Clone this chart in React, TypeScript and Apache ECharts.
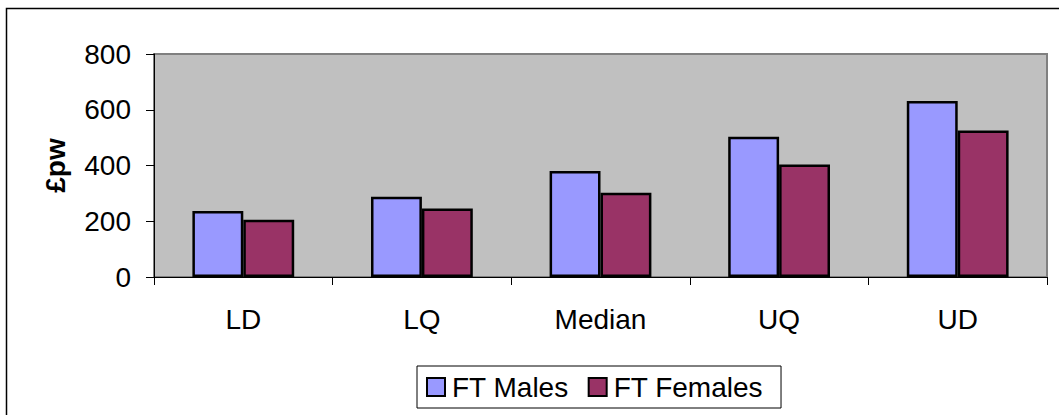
import React, { useEffect, useRef } from "react";
import * as echarts from "echarts";

// Weekly earnings distribution points (£ per week)
const categories = ["LD", "LQ", "Median", "UQ", "UD"];
const ftMales = [237, 288, 380, 503, 631];
const ftFemales = [205, 246, 302, 404, 526];
const yTicks = { min: 0, max: 800, interval: 200 };

const FONT = "Liberation Sans, Arial, Helvetica, sans-serif";
const FS = 28;

export default function App() {
  const ref = useRef<HTMLDivElement>(null);

  useEffect(() => {
    if (!ref.current) return;
    const chart = echarts.init(ref.current, undefined, { renderer: "svg" });
    const barStyle = (color: string) => ({
      color,
      borderColor: "#000",
      borderWidth: 2.5,
    });
    chart.setOption({
      animation: false,
      textStyle: { fontFamily: FONT },
      graphic: [
        {
          type: "rect",
          shape: { x: 6.5, y: 8.5, width: 1100, height: 500 },
          style: { fill: "none", stroke: "#000", lineWidth: 1.5 },
          z: 0,
        },
      ],
      grid: {
        left: 154,
        right: 12,
        top: 54,
        bottom: 138,
        show: true,
        backgroundColor: "#C0C0C0",
        borderColor: "#808080",
        borderWidth: 2,
      },
      legend: {
        left: 417,
        top: 366,
        itemWidth: 18,
        itemHeight: 18,
        itemGap: 19,
        padding: [7, 18, 7, 9],
        borderColor: "#000",
        borderWidth: 1,
        backgroundColor: "#fff",
        textStyle: { fontSize: FS, color: "#000", fontFamily: FONT, padding: [0, 0, 0, 2] },
        data: [
          { name: "FT Males", icon: "rect", itemStyle: { borderColor: "#000", borderWidth: 2 } },
          { name: "FT Females", icon: "rect", itemStyle: { borderColor: "#000", borderWidth: 2 } },
        ],
      },
      xAxis: {
        type: "category",
        data: categories,
        axisLine: { lineStyle: { color: "#000", width: 1 } },
        axisTick: { show: true, length: 8, lineStyle: { color: "#000" } },
        axisLabel: { fontSize: FS, color: "#000", margin: 28, fontFamily: FONT },
        splitLine: { show: false },
      },
      yAxis: {
        type: "value",
        min: yTicks.min,
        max: yTicks.max,
        interval: yTicks.interval,
        name: "£pw",
        nameLocation: "middle",
        nameGap: 85,
        nameRotate: 90,
        nameTextStyle: { fontSize: FS, fontWeight: "bold", color: "#000", fontFamily: FONT },
        axisLine: { show: true, lineStyle: { color: "#000", width: 1 } },
        axisTick: { show: true, length: 8, lineStyle: { color: "#000" } },
        axisLabel: { fontSize: FS, color: "#000", margin: 23, fontFamily: FONT },
        splitLine: { show: false },
      },
      series: [
        {
          name: "FT Males",
          type: "bar",
          data: ftMales,
          barGap: "0%",
          barCategoryGap: "43%",
          itemStyle: barStyle("#9999FF"),
        },
        {
          name: "FT Females",
          type: "bar",
          data: ftFemales,
          barGap: "0%",
          barCategoryGap: "43%",
          itemStyle: barStyle("#993366"),
        },
      ],
    });
    return () => chart.dispose();
  }, []);

  return (
    <div
      ref={ref}
      style={{ position: "fixed", left: 0, top: 0, width: 1059, height: 415, background: "#fff" }}
    />
  );
}
